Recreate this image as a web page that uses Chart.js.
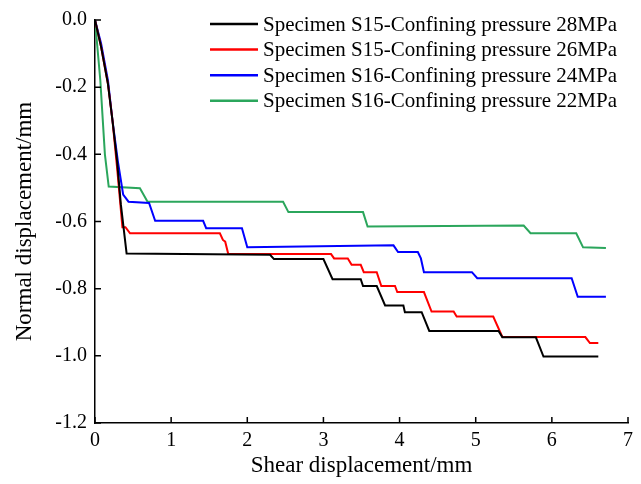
<!DOCTYPE html>
<html>
<head>
<meta charset="utf-8">
<script src="https://cdn.jsdelivr.net/npm/chart.js@4.4.1/dist/chart.umd.min.js"></script>
<style>
  html, body { margin:0; padding:0; background:#fff; }
  #wrap { width:641px; height:484px; }
</style>
</head>
<body>
<div id="wrap"><canvas id="chart" width="641" height="484"></canvas></div>
<script>
// series labels
const seriesLabels = [
  "Specimen S15-Confining pressure 28MPa",
  "Specimen S15-Confining pressure 26MPa",
  "Specimen S16-Confining pressure 24MPa",
  "Specimen S16-Confining pressure 22MPa"
];
const seriesColors = ["#000000", "#ff0000", "#0000ff", "#2ba65c"];

// [shear displacement, normal displacement]
const s15_28 = [
  [0,0],[0.08,-0.08],[0.17,-0.19],[0.23,-0.30],[0.29,-0.42],[0.34,-0.55],[0.415,-0.695],
  [2.30,-0.699],[2.35,-0.712],[3.00,-0.712],[3.12,-0.772],[3.49,-0.772],[3.52,-0.792],
  [3.70,-0.792],[3.81,-0.850],[4.05,-0.850],[4.07,-0.870],[4.29,-0.870],[4.39,-0.926],
  [5.30,-0.926],[5.35,-0.945],[5.79,-0.945],[5.89,-1.002],[6.61,-1.002]
];
const s15_26 = [
  [0,0],[0.08,-0.08],[0.17,-0.19],[0.23,-0.30],[0.29,-0.44],[0.36,-0.617],[0.40,-0.617],
  [0.46,-0.635],[1.64,-0.635],[1.68,-0.655],[1.71,-0.660],[1.75,-0.697],[3.10,-0.697],
  [3.14,-0.710],[3.32,-0.710],[3.37,-0.729],[3.49,-0.729],[3.53,-0.751],[3.70,-0.751],
  [3.76,-0.792],[3.94,-0.792],[3.97,-0.810],[4.32,-0.810],[4.42,-0.868],[4.71,-0.868],
  [4.75,-0.883],[5.23,-0.883],[5.35,-0.944],[6.44,-0.944],[6.50,-0.962],[6.61,-0.962]
];
const s16_24 = [
  [0,0],[0.08,-0.07],[0.17,-0.18],[0.23,-0.30],[0.30,-0.42],[0.37,-0.52],[0.44,-0.541],
  [0.71,-0.545],[0.79,-0.598],[1.42,-0.598],[1.46,-0.620],[1.93,-0.620],[2.00,-0.677],
  [3.92,-0.671],[3.98,-0.691],[4.24,-0.691],[4.28,-0.710],[4.32,-0.751],[4.95,-0.751],
  [5.02,-0.769],[6.26,-0.769],[6.34,-0.824],[6.71,-0.824]
];
const s16_22 = [
  [0,0],[0.07,-0.18],[0.13,-0.40],[0.18,-0.496],[0.59,-0.501],[0.69,-0.541],[2.47,-0.541],
  [2.54,-0.572],[3.52,-0.572],[3.58,-0.615],[5.63,-0.612],[5.72,-0.635],[6.32,-0.635],
  [6.41,-0.677],[6.71,-0.679]
];
const allSeries = [s15_28, s15_26, s16_24, s16_22];

const serif = "'Liberation Serif', 'Times New Roman', serif";

// ticks pointing into the plot
const inwardTicks = {
  id: "inwardTicks",
  afterDraw(chart){
    const ctx = chart.ctx;
    const xs = chart.scales.x, ys = chart.scales.y;
    const len = 6;
    ctx.save();
    ctx.strokeStyle = "#000";
    ctx.lineWidth = 1.5;
    ctx.beginPath();
    xs.ticks.forEach(t => {
      const px = xs.getPixelForValue(t.value);
      ctx.moveTo(px, xs.top);
      ctx.lineTo(px, xs.top - len);
    });
    ys.ticks.forEach(t => {
      const py = ys.getPixelForValue(t.value);
      ctx.moveTo(ys.right, py);
      ctx.lineTo(ys.right + len, py);
    });
    ctx.stroke();
    ctx.restore();
  }
};

// legend in the upper right of the plot
const legendBox = {
  id: "legendBox",
  afterDraw(chart){
    const ctx = chart.ctx;
    const x0 = 210, x1 = 258, tx = 263, y0 = 24, dy = 25.6;
    ctx.save();
    ctx.font = "21px " + serif;
    ctx.textBaseline = "middle";
    ctx.fillStyle = "#000";
    chart.data.datasets.forEach((ds, i) => {
      const y = y0 + i * dy;
      ctx.strokeStyle = ds.borderColor;
      ctx.lineWidth = 2.5;
      ctx.beginPath();
      ctx.moveTo(x0, y);
      ctx.lineTo(x1, y);
      ctx.stroke();
      ctx.fillText(ds.label, tx, y + 1);
    });
    ctx.restore();
  }
};

new Chart(document.getElementById("chart"), {
  type: "line",
  data: {
    datasets: allSeries.map((pts, i) => ({
      label: seriesLabels[i],
      data: pts.map(p => ({x: p[0], y: p[1]})),
      borderColor: seriesColors[i],
      borderWidth: 2,
      pointRadius: 0,
      tension: 0,
      fill: false
    }))
  },
  options: {
    responsive: false,
    animation: false,
    layout: { padding: { left: 0, top: 20, right: 13, bottom: 0 } },
    plugins: { legend: { display: false }, tooltip: { enabled: false } },
    scales: {
      x: {
        type: "linear",
        min: 0, max: 7,
        ticks: { stepSize: 1, color: "#000", padding: 6, font: { family: serif, size: 20 },
                 callback: v => String(v) },
        grid: { display: true, drawOnChartArea: false, drawTicks: false },
        border: { display: true, color: "#000", width: 1.5 },
        title: { display: true, text: "Shear displacement/mm", color: "#000",
                 font: { family: serif, size: 23 }, padding: { top: 0, bottom: 4 } },
        afterFit: s => { s.height = 61; }
      },
      y: {
        min: -1.2, max: 0,
        ticks: { stepSize: 0.2, color: "#000", padding: 8, font: { family: serif, size: 20 },
                 callback: v => v.toFixed(1) },
        grid: { display: true, drawOnChartArea: false, drawTicks: false },
        border: { display: true, color: "#000", width: 1.5 },
        title: { display: true, text: "Normal displacement/mm", color: "#000",
                 font: { family: serif, size: 23 }, padding: { top: 11, bottom: 0 } },
        afterFit: s => { s.width = 95; }
      }
    }
  },
  plugins: [inwardTicks, legendBox]
});
</script>
</body>
</html>
